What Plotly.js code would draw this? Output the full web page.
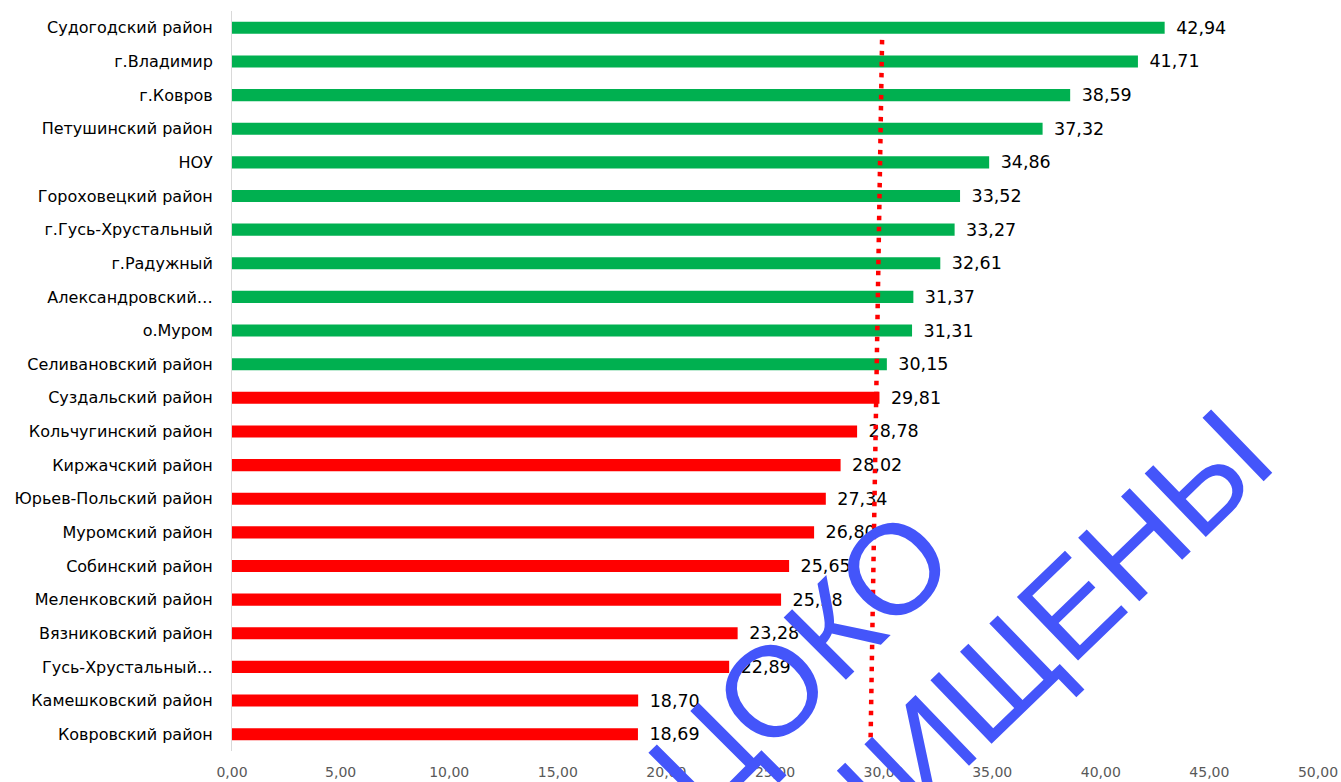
<!DOCTYPE html>
<html>
<head>
<meta charset="utf-8">
<script src="https://cdn.plot.ly/plotly-3.0.1.min.js"></script>
<style>
html,body{margin:0;padding:0;background:#fff;}
#chart{width:1341px;height:782px;}
</style>
</head>
<body>
<div id="chart"></div>
<script>
const categories = [
  "Судогодский район", "г.Владимир", "г.Ковров", "Петушинский район", "НОУ",
  "Гороховецкий район", "г.Гусь-Хрустальный", "г.Радужный", "Александровский…",
  "о.Муром", "Селивановский район", "Суздальский район", "Кольчугинский район",
  "Киржачский район", "Юрьев-Польский район", "Муромский район", "Собинский район",
  "Меленковский район", "Вязниковский район", "Гусь-Хрустальный…",
  "Камешковский район", "Ковровский район"
];
const values = [42.94, 41.71, 38.59, 37.32, 34.86, 33.52, 33.27, 32.61, 31.37, 31.31,
  30.15, 29.81, 28.78, 28.02, 27.34, 26.80, 25.65, 25.28, 23.28, 22.89, 18.70, 18.69];
const threshold = 30;
// dotted reference line (as drawn, slightly slanted): x values at top and bottom
const refLineX = [29.93, 29.40];
const refLineY = [0.961, 0.0146];
const xTicks = [0, 5, 10, 15, 20, 25, 30, 35, 40, 45, 50];
const watermark1 = "ЦОКО";
const watermark2 = "ЗАЩИЩЕНЫ";

const colors = values.map(v => v >= threshold ? "#00B050" : "#FF0000");

const bars = {
  type: "bar", orientation: "h",
  x: values, y: categories,
  marker: {color: colors},
  texttemplate: "\u00A0\u2006%{x:.2f}",
  textposition: "outside",
  constraintext: "none",
  cliponaxis: false,
  textfont: {family: "DejaVu Sans", size: 17.5, color: "#000"},
  hoverinfo: "x+y"
};
const refLine = {
  type: "scatter", mode: "lines",
  x: refLineX, y: refLineY, yaxis: "y2",
  line: {color: "#FF0000", width: 4.5, dash: "4.5px,6.5px"},
  hoverinfo: "skip"
};

const layout = {
  width: 1341, height: 782,
  margin: {l: 232, r: 23, t: 11, b: 31},
  paper_bgcolor: "#fff", plot_bgcolor: "#fff",
  showlegend: false,
  separators: ", ",
  bargap: 0.64,
  xaxis: {
    range: [0, 50], tickvals: xTicks, tickformat: ".2f",
    showgrid: false, zeroline: false, showline: false, ticks: "",
    ticklabelstandoff: 11,
    tickfont: {family: "DejaVu Sans", size: 14, color: "#595959"}
  },
  yaxis: {
    autorange: "reversed", type: "category",
    showgrid: false, zeroline: false, showline: true, linecolor: "#D9D9D9", linewidth: 1,
    ticks: "", ticklabelstandoff: 15,
    tickfont: {family: "DejaVu Sans", size: 16, color: "#000"}
  },
  yaxis2: {overlaying: "y", range: [0, 1], visible: false},
  annotations: [
    {text: watermark1, xref: "paper", yref: "paper", showarrow: false,
     x: (800 - 232) / 1086, y: (751 - 662) / 740, xanchor: "center", yanchor: "middle",
     textangle: -45, font: {family: "Liberation Sans", size: 128, color: "#4455FA"}},
    {text: watermark2, xref: "paper", yref: "paper", showarrow: false,
     x: (966 - 232) / 1086, y: (751 - 706) / 740, xanchor: "center", yanchor: "middle",
     textangle: -44, font: {family: "Liberation Sans", size: 128, color: "#4455FA"}}
  ]
};

Plotly.newPlot("chart", [bars, refLine], layout, {displayModeBar: false, staticPlot: true});
</script>
</body>
</html>
